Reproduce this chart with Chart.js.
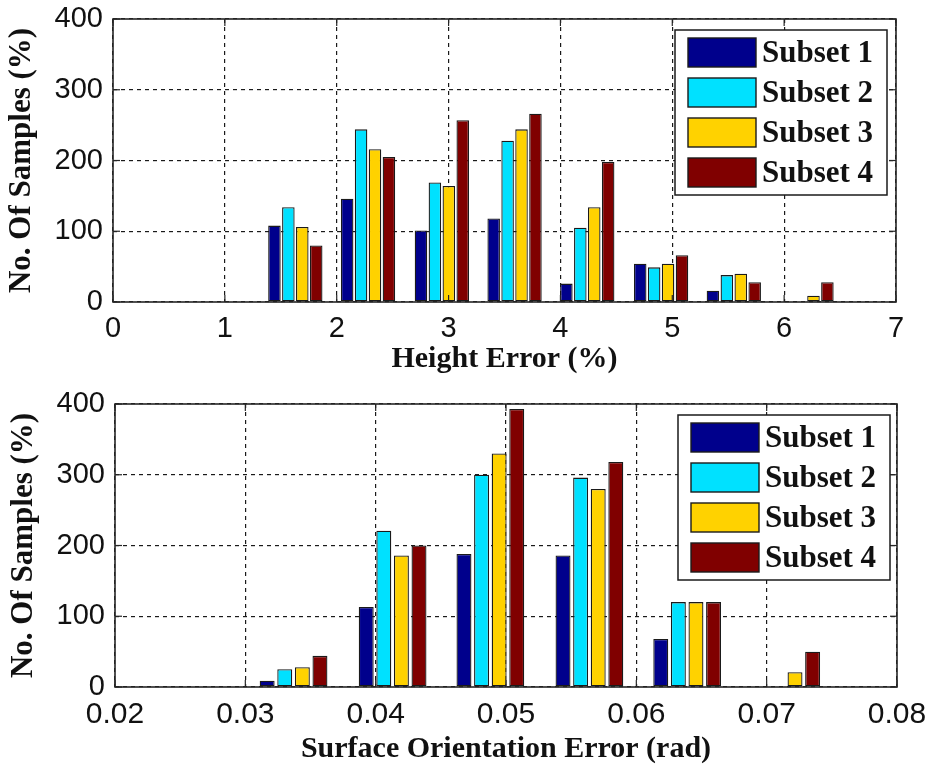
<!DOCTYPE html>
<html><head><meta charset="utf-8">
<script src="https://cdn.jsdelivr.net/npm/chart.js@4/dist/chart.umd.min.js"></script>
<style>html,body{margin:0;padding:0;background:#fff;overflow:hidden}canvas{display:block}</style>
</head><body>
<canvas id="c1" width="929" height="383"></canvas>
<canvas id="c2" width="929" height="384"></canvas>
<script>
// ---------- data ----------
const seriesNames = ['Subset 1', 'Subset 2', 'Subset 3', 'Subset 4'];
const seriesColors = ['#00008C', '#00E1FF', '#FFD200', '#800000'];

const heightBins = [1.63, 2.28, 2.94, 3.59, 4.24, 4.90, 5.55, 6.20];
const heightSubset1 = [108, 146, 101, 118, 26, 54, 16, 0];
const heightSubset2 = [134, 244, 169, 228, 105, 49, 38, 0];
const heightSubset3 = [106, 216, 164, 244, 134, 54, 40, 9];
const heightSubset4 = [80, 205, 257, 266, 198, 66, 28, 28];
const heightTicks = [0, 1, 2, 3, 4, 5, 6, 7];

const orientBins = [0.0337, 0.0413, 0.0488, 0.0564, 0.0639, 0.0715];
const orientSubset1 = [9, 113, 188, 186, 68, 0];
const orientSubset2 = [25, 221, 300, 296, 120, 0];
const orientSubset3 = [28, 186, 330, 280, 120, 21];
const orientSubset4 = [44, 200, 393, 318, 120, 50];
const orientTicks = [0.02, 0.03, 0.04, 0.05, 0.06, 0.07, 0.08];

const countTicks = [0, 100, 200, 300, 400];

// ---------- helpers ----------
const SANS = "'Liberation Sans', Arial, sans-serif";
const SERIF = "'Liberation Serif', 'Times New Roman', serif";

const framePlugin = {
  id: 'frame',
  afterDatasetsDraw(chart) {
    const {ctx, chartArea: a, scales} = chart;
    ctx.save();
    ctx.strokeStyle = '#262626';
    ctx.lineWidth = 1.2;
    const tl = 7;
    const seg = (x1, y1, x2, y2) => { ctx.beginPath(); ctx.moveTo(x1, y1); ctx.lineTo(x2, y2); ctx.stroke(); };
    scales.x.ticks.forEach(t => {
      const p = scales.x.getPixelForValue(t.value);
      seg(p, a.bottom, p, a.bottom - tl); seg(p, a.top, p, a.top + tl);
    });
    scales.y.ticks.forEach(t => {
      const p = scales.y.getPixelForValue(t.value);
      seg(a.left, p, a.left + tl, p); seg(a.right, p, a.right - tl, p);
    });
    ctx.lineWidth = 1.6;
    ctx.strokeRect(a.left, a.top, a.right - a.left, a.bottom - a.top);
    ctx.restore();
  }
};

const legendPlugin = {
  id: 'insideLegend',
  afterDraw(chart, args, opts) {
    const {ctx, chartArea: a} = chart;
    const w = 212, h = 165;
    const x0 = a.right - opts.right - w, y0 = a.top + 11;
    ctx.save();
    ctx.fillStyle = '#fff';
    ctx.fillRect(x0, y0, w, h);
    ctx.strokeStyle = '#1a1a1a';
    ctx.lineWidth = 1.5;
    ctx.strokeRect(x0, y0, w, h);
    chart.data.datasets.forEach((ds, i) => {
      const sx = x0 + 13, sy = y0 + 8 + i * 40, sw = 68, sh = 29;
      ctx.fillStyle = ds.backgroundColor;
      ctx.fillRect(sx, sy, sw, sh);
      ctx.lineWidth = 1.4;
      ctx.strokeStyle = '#1a1a1a';
      ctx.strokeRect(sx, sy, sw, sh);
      ctx.fillStyle = '#111';
      ctx.font = 'bold 31px ' + SERIF;
      ctx.textBaseline = 'middle';
      ctx.textAlign = 'left';
      ctx.fillText(ds.label, sx + sw + 6, sy + sh / 2 + 1);
    });
    ctx.restore();
  }
};

function makeDatasets(bins, series) {
  return series.map((vals, i) => ({
    label: seriesNames[i],
    data: bins.map((x, j) => ({x: x, y: vals[j]})),
    backgroundColor: seriesColors[i],
    borderColor: '#1a1a1a',
    borderWidth: 1.3,
    borderSkipped: false
  }));
}

function makeChart(id, cfg) {
  return new Chart(document.getElementById(id), {
    type: 'bar',
    data: {datasets: makeDatasets(cfg.bins, cfg.series)},
    plugins: [framePlugin, legendPlugin],
    options: {
      responsive: false,
      animation: false,
      events: [],
      layout: {padding: {left: 0, right: cfg.padRight, top: cfg.padTop, bottom: 0}},
      datasets: {bar: {categoryPercentage: cfg.catPct, barPercentage: cfg.barPct}},
      plugins: {
        legend: {display: false},
        tooltip: {enabled: false},
        insideLegend: {right: cfg.legendRight}
      },
      scales: {
        x: {
          type: 'linear',
          offset: false,
          min: cfg.ticks[0],
          max: cfg.ticks[cfg.ticks.length - 1],
          afterBuildTicks: s => { s.ticks = cfg.ticks.map(v => ({value: v})); },
          afterFit: s => { s.height = cfg.xHeight; s.paddingLeft = 0; s.paddingRight = 0; },
          grid: {offset: false, drawTicks: false, color: '#1a1a1a', lineWidth: 1.2},
          border: {display: false, dash: [4, 4]},
          ticks: {
            padding: cfg.xTickPad,
            maxRotation: 0,
            autoSkip: false,
            color: '#111',
            font: {family: SANS, size: cfg.xTickSize},
            callback: cfg.fmt
          },
          title: {
            display: true,
            text: cfg.xTitle,
            color: '#111',
            font: {family: SERIF, size: 30, weight: 'bold', lineHeight: 1.2},
            padding: {top: 0, bottom: cfg.xTitlePad}
          }
        },
        y: {
          type: 'linear',
          min: 0,
          max: 400,
          afterBuildTicks: s => { s.ticks = countTicks.map(v => ({value: v})); },
          afterFit: s => { s.width = cfg.yWidth; s.paddingTop = 0; s.paddingBottom = 0; },
          grid: {drawTicks: false, color: '#1a1a1a', lineWidth: 1.2},
          border: {display: false, dash: [4, 4]},
          ticks: {
            padding: 10,
            color: '#111',
            font: {family: SANS, size: 29},
            callback: v => String(v)
          },
          title: {
            display: true,
            text: 'No. Of Samples (%)',
            color: '#111',
            font: {family: SERIF, size: 31, weight: 'bold', lineHeight: 1.2},
            padding: {top: cfg.yTitlePad, bottom: 0}
          }
        }
      }
    }
  });
}

makeChart('c1', {
  bins: heightBins,
  series: [heightSubset1, heightSubset2, heightSubset3, heightSubset4],
  ticks: heightTicks,
  fmt: v => String(v),
  xTitle: 'Height Error (%)',
  padRight: 33, padTop: 19,
  xHeight: 81, yWidth: 113,
  xTickPad: 10, xTickSize: 29, xTitlePad: 6, yTitlePad: 3,
  catPct: 0.766, barPct: 0.9,
  legendRight: 9
});

makeChart('c2', {
  bins: orientBins,
  series: [orientSubset1, orientSubset2, orientSubset3, orientSubset4],
  ticks: orientTicks,
  fmt: v => Number(v).toFixed(2),
  xTitle: 'Surface Orientation Error (rad)',
  padRight: 32, padTop: 21,
  xHeight: 80, yWidth: 115,
  xTickPad: 10, xTickSize: 30, xTitlePad: 0, yTitlePad: 5,
  catPct: 0.72, barPct: 0.85,
  legendRight: 7
});
</script>
</body></html>
